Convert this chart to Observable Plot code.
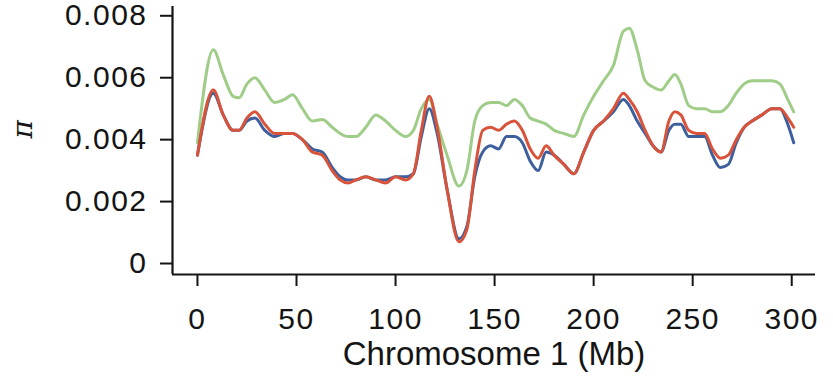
<!DOCTYPE html>
<html>
<head>
<meta charset="utf-8">
<script src="https://cdn.jsdelivr.net/npm/d3@7"></script>
<script src="https://cdn.jsdelivr.net/npm/@observablehq/plot@0.6"></script>
<style>
  html, body { margin: 0; padding: 0; background: #fff; }
  #chart svg { display: block; }
  g[aria-label="x-axis tick label"] text, g[aria-label="y-axis tick label"] text { letter-spacing: 1.5px; }
</style>
</head>
<body>
<div id="chart"></div>
<script>
// Position along chromosome 1 (Mb)
const positions = [0, 8, 13, 18, 21, 25, 29, 34, 39, 44, 48, 53, 58, 63, 68, 72, 76, 80, 85, 90, 95, 100, 105, 109, 113, 117, 121, 126, 132, 136, 140, 144, 148, 152, 156, 160, 164, 168, 172, 176, 180, 185, 190, 195, 200, 205, 210, 215, 218, 222, 226, 230, 234, 238, 241, 244, 248, 252, 256, 260, 264, 268, 272, 276, 280, 285, 290, 294, 298, 301];

const greenPi = [0.0039, 0.0069, 0.0061, 0.0054, 0.00535, 0.0058, 0.0060, 0.0056, 0.0052, 0.0053, 0.00545, 0.0050, 0.0046, 0.00465, 0.0044, 0.0042, 0.0041, 0.0041, 0.0044, 0.0048, 0.0046, 0.0043, 0.0041, 0.0043, 0.0050, 0.0053, 0.0045, 0.0035, 0.0025, 0.0030, 0.0046, 0.0051, 0.0052, 0.0052, 0.0051, 0.0053, 0.0051, 0.0047, 0.0046, 0.0045, 0.0043, 0.0042, 0.0041, 0.0048, 0.0054, 0.0059, 0.0064, 0.0075, 0.0076, 0.0069, 0.0059, 0.0057, 0.0056, 0.0059, 0.0061, 0.0058, 0.0051, 0.0050, 0.0050, 0.0049, 0.0049, 0.0051, 0.0055, 0.0058, 0.0059, 0.0059, 0.0059, 0.0058, 0.0053, 0.0049];

const bluePi = [0.0035, 0.0055, 0.0048, 0.0043, 0.0043, 0.0046, 0.0047, 0.0043, 0.0041, 0.0042, 0.0042, 0.0040, 0.0037, 0.0036, 0.0031, 0.0028, 0.0027, 0.0027, 0.0028, 0.0027, 0.0027, 0.0028, 0.0028, 0.0029, 0.0041, 0.0050, 0.0042, 0.0024, 0.0008, 0.0012, 0.0028, 0.0036, 0.0038, 0.0037, 0.0041, 0.0041, 0.0039, 0.0033, 0.0030, 0.0036, 0.0035, 0.0032, 0.0029, 0.0036, 0.0043, 0.0046, 0.0049, 0.0053, 0.0051, 0.0046, 0.0042, 0.0038, 0.0036, 0.0043, 0.0045, 0.0045, 0.0041, 0.0041, 0.0041, 0.0035, 0.0031, 0.0032, 0.0039, 0.0044, 0.0046, 0.0048, 0.0050, 0.0050, 0.0045, 0.0039];

const redPi = [0.0035, 0.0056, 0.0048, 0.0043, 0.0043, 0.0047, 0.0049, 0.0045, 0.0042, 0.0042, 0.0042, 0.0040, 0.0036, 0.0035, 0.0030, 0.0027, 0.0026, 0.0027, 0.0028, 0.0027, 0.0026, 0.0028, 0.0027, 0.0029, 0.0043, 0.0054, 0.0044, 0.0024, 0.0007, 0.0011, 0.0030, 0.0043, 0.0044, 0.0043, 0.0045, 0.0046, 0.0043, 0.0037, 0.0034, 0.0038, 0.0035, 0.0032, 0.0029, 0.0036, 0.0043, 0.0046, 0.0050, 0.0055, 0.0053, 0.0049, 0.0043, 0.0038, 0.0036, 0.0046, 0.0049, 0.0048, 0.0043, 0.0042, 0.0042, 0.0037, 0.0034, 0.0035, 0.0040, 0.0044, 0.0046, 0.0048, 0.0050, 0.0050, 0.0047, 0.0044];

const xTicks = [0, 50, 100, 150, 200, 250, 300];
const yTicks = [0, 0.002, 0.004, 0.006, 0.008];
const yTickLabels = ["0", "0.002", "0.004", "0.006", "0.008"];
const xTitle = "Chromosome 1 (Mb)";
const yTitle = "π";

const xDomain = [-12.6, 312];
const yDomain = [-0.000355, 0.0083];
const ink = "#141414";

const plot = Plot.plot({
  width: 833,
  height: 389,
  marginLeft: 172,
  marginRight: 18,
  marginTop: 6,
  marginBottom: 115,
  style: { fontFamily: "'Liberation Sans', Arial, Helvetica, sans-serif", color: ink, background: "#fff" },
  x: { domain: xDomain },
  y: { domain: yDomain },
  marks: [
    Plot.axisX({ ticks: xTicks, tickFormat: d => String(d), tickSize: 12, tickPadding: 21, fontSize: 30, strokeWidth: 2, stroke: ink, label: null }),
    Plot.axisY({ ticks: yTicks, tickFormat: d => yTickLabels[yTicks.indexOf(d)], tickSize: 12, tickPadding: 13, fontSize: 30, strokeWidth: 2, stroke: ink, label: null }),
    Plot.ruleX([xDomain[0]], { stroke: ink, strokeWidth: 2.2 }),
    Plot.ruleY([yDomain[0]], { stroke: ink, strokeWidth: 2.2 }),
    Plot.line(positions, { x: d => d, y: (d, i) => greenPi[i], stroke: "#9fcd88", strokeWidth: 3, curve: "monotone-x" }),
    Plot.line(positions, { x: d => d, y: (d, i) => bluePi[i], stroke: "#3d5f9e", strokeWidth: 3, curve: "monotone-x" }),
    Plot.line(positions, { x: d => d, y: (d, i) => redPi[i], stroke: "#d8533a", strokeWidth: 3, curve: "monotone-x" }),
    Plot.text([xTitle], { frameAnchor: "bottom", dy: 90, fontSize: 33, fill: ink }),
    Plot.text([yTitle], { frameAnchor: "left", dx: -149, dy: -2, rotate: -90, fontSize: 28, fontStyle: "italic", fontFamily: "'DejaVu Serif', serif", fill: ink })
  ]
});
document.getElementById("chart").appendChild(plot);
</script>
</body>
</html>
